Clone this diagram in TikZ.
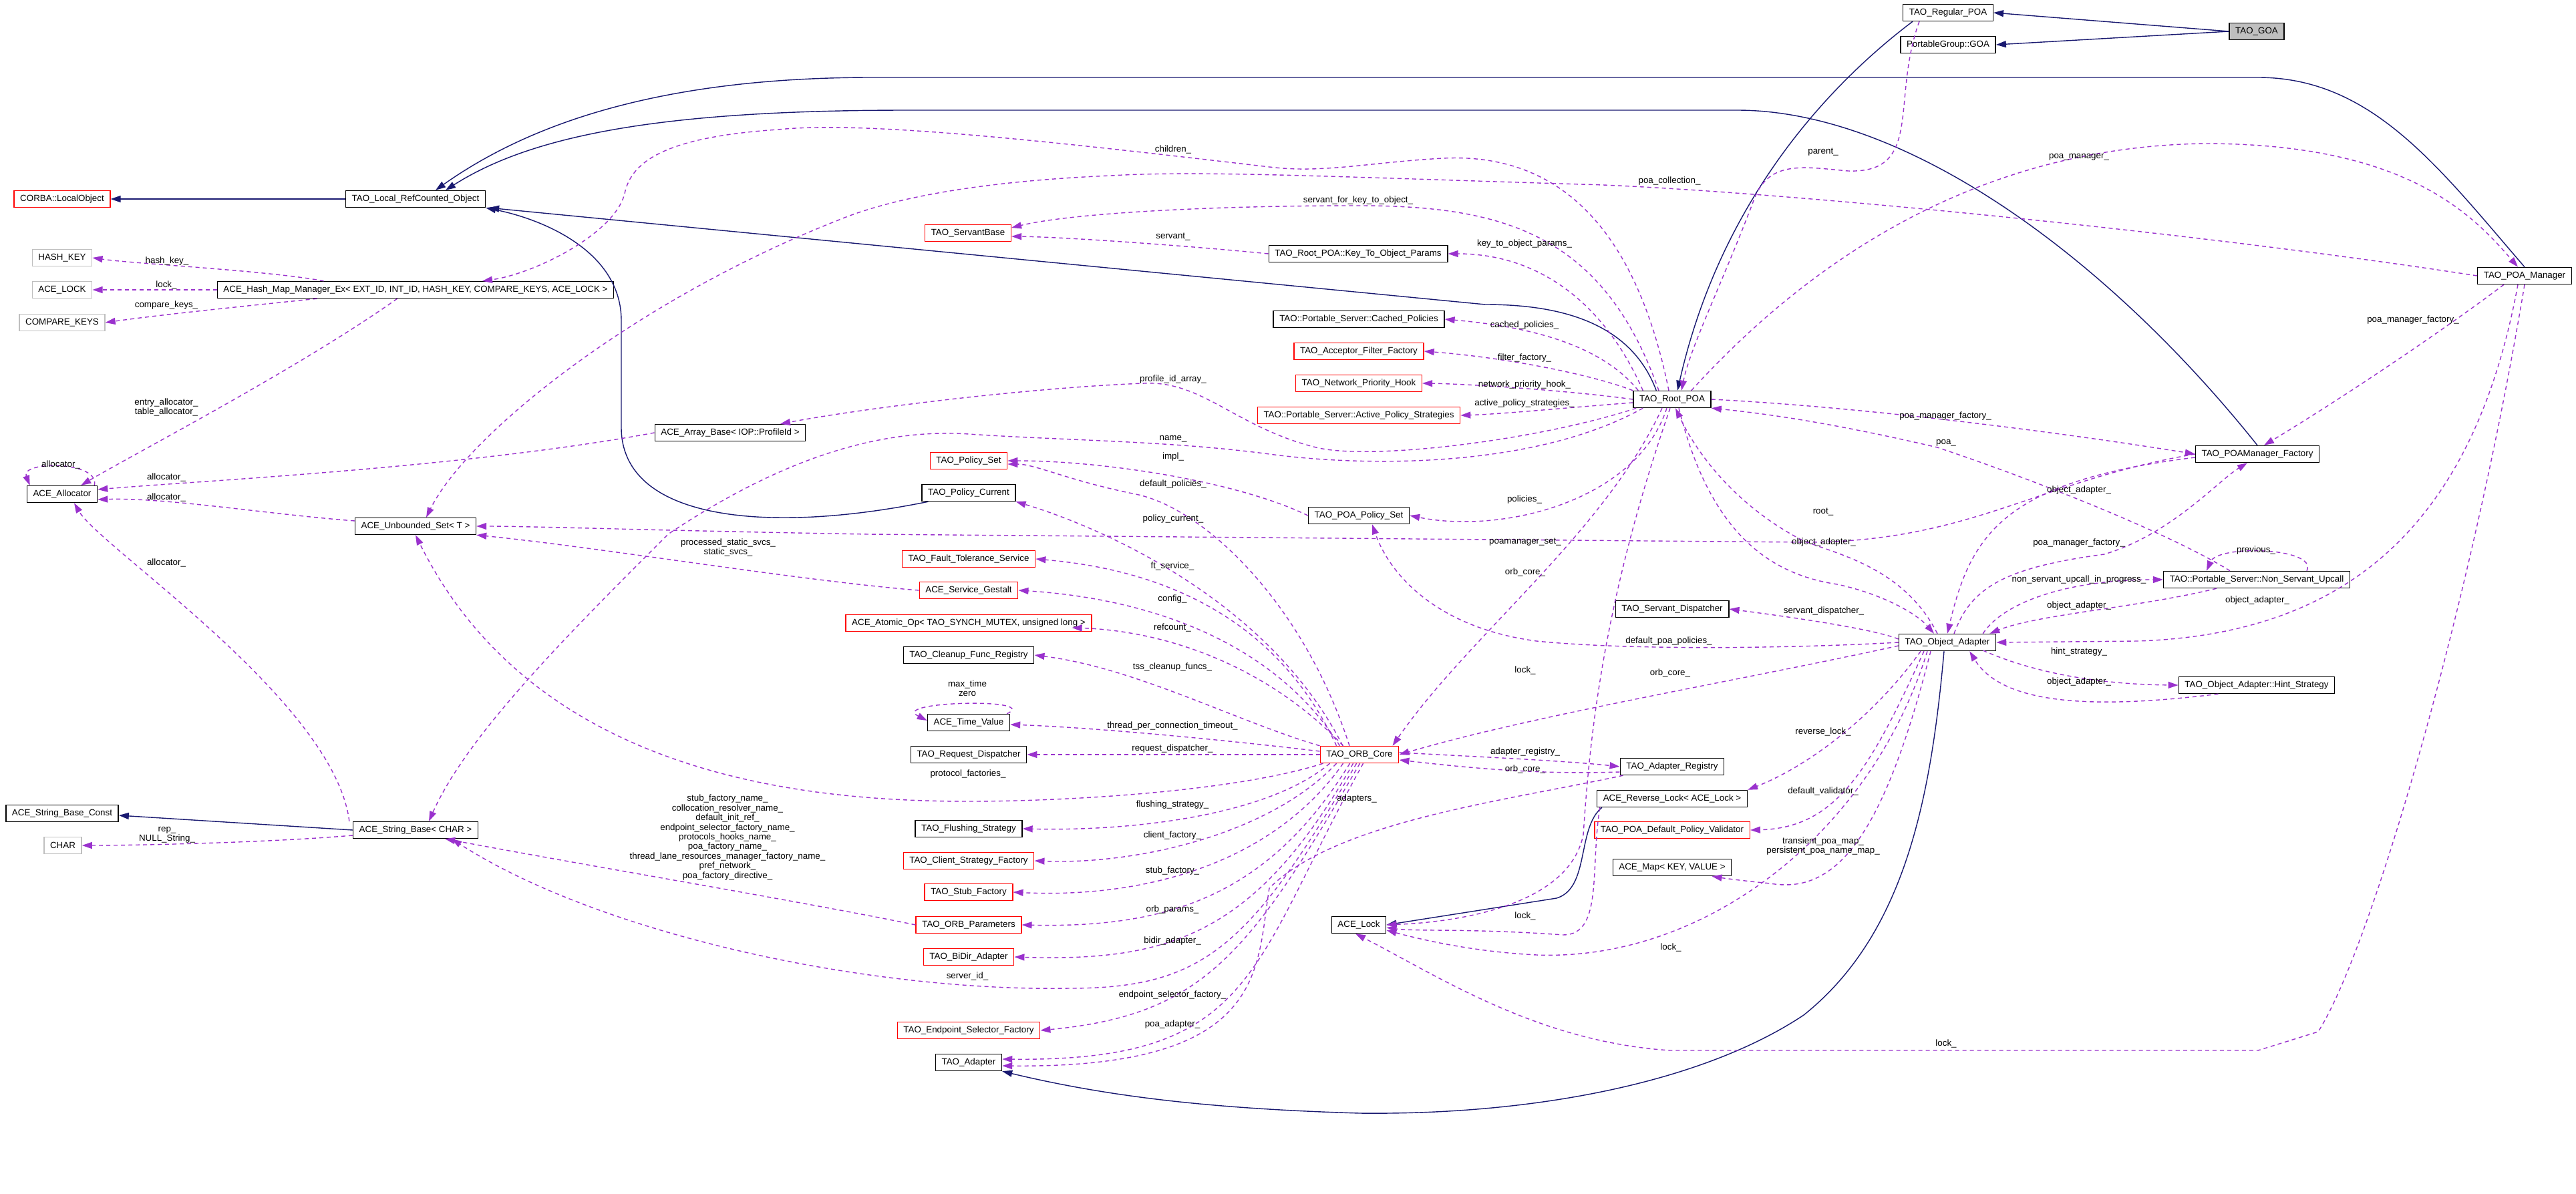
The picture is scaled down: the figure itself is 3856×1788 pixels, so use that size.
\documentclass[tikz,border=0pt]{standalone}
\usepackage{fontspec}
\setmainfont{Liberation Sans}
\usetikzlibrary{arrows.meta,calc}
\definecolor{inhc}{HTML}{191970}
\definecolor{depc}{HTML}{9A32CD}
\newcommand\dgfont{\fontsize{3.8}{4.1}\selectfont}
\newcommand\lt{\textless{}}
\newcommand\gt{\textgreater{}}
\tikzset{
 box/.style={draw=black, line width=0.4pt, fill=white, inner xsep=2.6pt, inner ysep=0pt, minimum height=0.25cm, font=\dgfont},
 rbox/.style={box, draw=red},
 gbox/.style={box, draw=black!25},
 inh/.style={draw=inhc, line width=0.4pt, -{Triangle[length=0.15cm,width=0.1cm]}},
 dep/.style={draw=depc, line width=0.4pt, dash pattern=on 0.06cm off 0.05cm, -{Triangle[length=0.15cm,width=0.1cm,fill=depc]}},
 lab/.style={font=\dgfont, inner sep=0pt, align=center}
}
\begin{document}
\begin{tikzpicture}[x=0.01cm,y=-0.01cm]
\useasboundingbox (0,0) rectangle (3856,1788);
% nodes
\node[box,fill=black!25] (goa) at (3378,47) {TAO\_GOA};
\node[box] (regpoa) at (2916,19) {TAO\_Regular\_POA};
\node[box] (pggoa) at (2916,67) {PortableGroup::GOA};
\node[rbox] (corba) at (93,298) {CORBA::LocalObject};
\node[box] (lrc) at (622,298) {TAO\_Local\_RefCounted\_Object};
\node[gbox] (hashkey) at (93,386) {HASH\_KEY};
\node[gbox] (acelock) at (93,434) {ACE\_LOCK};
\node[gbox] (cmpkeys) at (93,483) {COMPARE\_KEYS};
\node[box] (hashmap) at (622,434) {ACE\_Hash\_Map\_Manager\_Ex\lt{} EXT\_ID, INT\_ID, HASH\_KEY, COMPARE\_KEYS, ACE\_LOCK \gt};
\node[box] (alloc) at (93,740) {ACE\_Allocator};
\node[box] (uset) at (622,788) {ACE\_Unbounded\_Set\lt{} T \gt};
\node[box] (arraybase) at (1093,648) {ACE\_Array\_Base\lt{} IOP::ProfileId \gt};
\node[box] (sbc) at (93,1218) {ACE\_String\_Base\_Const};
\node[gbox] (char) at (94,1266) {CHAR};
\node[box] (sbase) at (622,1243) {ACE\_String\_Base\lt{} CHAR \gt};
\node[rbox] (servantbase) at (1449,349) {TAO\_ServantBase};
\node[box] (keyobj) at (2033,380) {TAO\_Root\_POA::Key\_To\_Object\_Params};
\node[box] (cached) at (2034,478) {TAO::Portable\_Server::Cached\_Policies};
\node[rbox] (acceptor) at (2034,526) {TAO\_Acceptor\_Filter\_Factory};
\node[rbox] (nethook) at (2034,574) {TAO\_Network\_Priority\_Hook};
\node[rbox] (aps) at (2034,622) {TAO::Portable\_Server::Active\_Policy\_Strategies};
\node[box] (rootpoa) at (2503,598) {TAO\_Root\_POA};
\node[rbox] (policyset) at (1450,690) {TAO\_Policy\_Set};
\node[box] (policycur) at (1450,738) {TAO\_Policy\_Current};
\node[box] (poapolicyset) at (2034,772) {TAO\_POA\_Policy\_Set};
\node[rbox] (ft) at (1450,837) {TAO\_Fault\_Tolerance\_Service};
\node[rbox] (gestalt) at (1450,884) {ACE\_Service\_Gestalt};
\node[rbox] (atomic) at (1450,933) {ACE\_Atomic\_Op\lt{} TAO\_SYNCH\_MUTEX, unsigned long \gt};
\node[box] (cleanup) at (1450,981) {TAO\_Cleanup\_Func\_Registry};
\node[box] (timevalue) at (1450,1082) {ACE\_Time\_Value};
\node[box] (reqdisp) at (1450,1130) {TAO\_Request\_Dispatcher};
\node[rbox] (orbcore) at (2035,1130) {TAO\_ORB\_Core};
\node[box] (flush) at (1450,1241) {TAO\_Flushing\_Strategy};
\node[rbox] (csf) at (1450,1289) {TAO\_Client\_Strategy\_Factory};
\node[rbox] (stubf) at (1450,1336) {TAO\_Stub\_Factory};
\node[rbox] (orbparams) at (1450,1385) {TAO\_ORB\_Parameters};
\node[rbox] (bidir) at (1450,1433) {TAO\_BiDir\_Adapter};
\node[rbox] (esf) at (1450,1543) {TAO\_Endpoint\_Selector\_Factory};
\node[box] (adapter) at (1450,1591) {TAO\_Adapter};
\node[box] (acelockc) at (2034,1385) {ACE\_Lock};
\node[box] (adreg) at (2503,1148) {TAO\_Adapter\_Registry};
\node[box] (revlock) at (2503,1196) {ACE\_Reverse\_Lock\lt{} ACE\_Lock \gt};
\node[rbox] (validator) at (2503,1243) {TAO\_POA\_Default\_Policy\_Validator};
\node[box] (acemap) at (2503,1299) {ACE\_Map\lt{} KEY, VALUE \gt};
\node[box] (servdisp) at (2503,912) {TAO\_Servant\_Dispatcher};
\node[box] (oa) at (2915,962) {TAO\_Object\_Adapter};
\node[box] (pmf) at (3379,680) {TAO\_POAManager\_Factory};
\node[box] (pm) at (3779,413) {TAO\_POA\_Manager};
\node[box] (nsu) at (3378,868) {TAO::Portable\_Server::Non\_Servant\_Upcall};
\node[box] (hint) at (3378,1026) {TAO\_Object\_Adapter::Hint\_Strategy};

% inheritance
\draw[inh] (goa.west) -- (regpoa.east);
\draw[inh] (goa.west) -- (pggoa.east);
\draw[inh] ($(regpoa.south west)+(15,0)$) .. controls (2760,110) and (2580,280) .. ($(rootpoa.north)+(8,0)$);
\draw[inh] ($(rootpoa.north west)+(35,0)$) .. controls (2440,480) and (2330,456) .. (2223,456) -- ($(lrc.south east)+(5,0)$);
\draw[inh] (pmf.north) .. controls (3150,380) and (2850,165) .. (2600,165) -- (1360,165) .. controls (1000,165) and (800,200) .. ($(lrc.north)+(45,0)$);
\draw[inh] (pm.north) .. controls (3650,250) and (3550,116) .. (3380,116) -- (1306,116) .. controls (1000,116) and (800,180) .. ($(lrc.north)+(30,0)$);
\draw[inh] ($(policycur.south west)+(10,0)$) .. controls (1150,800) and (930,780) .. (930,640) -- (930,480) .. controls (930,380) and (820,330) .. (lrc.south east);
\draw[inh] (lrc.west) -- (corba.east);
\draw[inh] (sbase.west) -- ($(sbc.east)+(0,3)$);
\draw[inh] ($(revlock.south west)+(8,0)$) .. controls (2360,1240) and (2380,1330) .. (2330,1345) -- (acelockc.east);
\draw[inh] ($(oa.south)+(-5,0)$) .. controls (2890,1200) and (2850,1400) .. (2700,1520) .. controls (2550,1620) and (2300,1670) .. (2035,1667) .. controls (1800,1660) and (1650,1640) .. (adapter.south east);

% dependencies
\draw[dep] ($(hashmap.north west)+(160,0)$) .. controls (400,405) and (200,395) .. (hashkey.east);
\draw[dep] (hashmap.west) -- (acelock.east);
\draw[dep] ($(hashmap.south west)+(150,0)$) .. controls (400,455) and (250,470) .. (cmpkeys.east);
\draw[dep] ($(hashmap.south west)+(270,0)$) .. controls (450,550) and (200,680) .. ($(alloc.north east)+(-25,0)$);
\draw[dep] ($(alloc.north east)+(-5,0)$) .. controls (150,690) and (30,690) .. ($(alloc.north west)+(5,0)$);
\draw[dep] (arraybase.west) .. controls (700,700) and (300,720) .. ($(alloc.east)+(0,-7)$);
\draw[dep] ($(uset.west)+(0,-8)$) .. controls (400,770) and (250,745) .. ($(alloc.east)+(0,8)$);
\draw[dep] ($(sbase.north west)+(-5,0)$) .. controls (500,1050) and (150,820) .. ($(alloc.south)+(18,0)$);
\draw[dep] ($(sbase.west)+(0,8)$) .. controls (400,1262) and (200,1266) .. (char.east);
\draw[dep] ($(rootpoa.north)+(-5,0)$) .. controls (2440,300) and (2300,230) .. (2160,237) .. controls (2050,243) and (1980,260) .. (1900,250) .. controls (1600,215) and (1300,180) .. (1165,194) .. controls (1000,205) and (945,240) .. (935,290) .. controls (920,350) and (800,410) .. ($(hashmap.north)+(100,0)$);
\draw[dep] (pm.west) .. controls (3300,350) and (2700,290) .. (2400,277) .. controls (2000,265) and (1800,255) .. (1663,263) .. controls (1500,270) and (1350,290) .. (1254,330) .. controls (950,450) and (700,650) .. ($(uset.north)+(16,0)$);
\draw[dep] ($(rootpoa.north)+(-20,0)$) .. controls (2400,350) and (2250,308) .. (2033,308) .. controls (1800,308) and (1600,320) .. ($(servantbase.east)+(0,-8)$);
\draw[dep] (keyobj.west) .. controls (1800,370) and (1600,355) .. ($(servantbase.east)+(0,5)$);
\draw[dep] ($(rootpoa.north west)+(15,0)$) .. controls (2400,450) and (2300,380) .. (keyobj.east);
\draw[dep] ($(rootpoa.north west)+(8,0)$) .. controls (2400,520) and (2300,490) .. (cached.east);
\draw[dep] (rootpoa.north west) .. controls (2380,560) and (2250,535) .. (acceptor.east);
\draw[dep] (rootpoa.west) .. controls (2350,585) and (2200,575) .. (nethook.east);
\draw[dep] ($(rootpoa.west)+(0,5)$) .. controls (2350,610) and (2250,620) .. (aps.east);
\draw[dep] ($(rootpoa.south west)+(5,0)$) .. controls (2300,660) and (2050,690) .. (1970,670) .. controls (1850,640) and (1800,570) .. (1713,574) .. controls (1550,580) and (1300,610) .. ($(arraybase.north)+(75,0)$);
\draw[dep] ($(rootpoa.south west)+(15,0)$) .. controls (2300,700) and (2050,700) .. (1900,680) .. controls (1750,660) and (1600,660) .. (1450,650) .. controls (1300,640) and (1150,700) .. (1000,800) .. controls (850,950) and (700,1100) .. ($(sbase.north)+(20,0)$);
\draw[dep] (poapolicyset.west) .. controls (1850,720) and (1650,690) .. (policyset.east);
\draw[dep] ($(orbcore.north)+(-15,0)$) .. controls (1950,900) and (1800,760) .. (1700,740) .. controls (1600,720) and (1550,695) .. ($(policyset.east)+(0,5)$);
\draw[dep] ($(rootpoa.south)+(-8,0)$) .. controls (2450,750) and (2250,800) .. (poapolicyset.east);
\draw[dep] ($(orbcore.north)+(-25,0)$) .. controls (1900,900) and (1650,790) .. (policycur.south east);
\draw[dep] (pmf.west) .. controls (3050,720) and (2950,812) .. (2700,812) -- (1300,800) .. controls (1000,795) and (800,788) .. (uset.east);
\draw[dep] (gestalt.west) .. controls (1200,870) and (900,820) .. (uset.south east);
\draw[dep] ($(orbcore.north west)+(25,0)$) .. controls (1900,900) and (1700,850) .. (ft.east);
\draw[dep] ($(orbcore.north west)+(30,0)$) .. controls (1900,950) and (1700,895) .. (gestalt.east);
\draw[dep] ($(orbcore.north west)+(35,0)$) .. controls (1900,1000) and (1750,945) .. ($(atomic.east)+(-30,7)$);
\draw[dep] (orbcore.north west) .. controls (1850,1080) and (1700,1000) .. (cleanup.east);
\draw[dep] ($(timevalue.north east)+(-5,0)$) .. controls (1560,1045) and (1330,1050) .. ($(timevalue.west)+(0,-3)$);
\draw[dep] ($(orbcore.west)+(0,-5)$) .. controls (1850,1110) and (1650,1090) .. ($(timevalue.east)+(0,3)$);
\draw[dep] (orbcore.west) -- (reqdisp.east);
\draw[dep] ($(orbcore.south west)+(5,0)$) .. controls (1850,1185) and (1600,1200) .. (1450,1200) .. controls (1200,1200) and (800,1160) .. ($(uset.south)+(0,0)$);
\draw[dep] ($(orbcore.south west)+(15,0)$) .. controls (1900,1220) and (1700,1245) .. (flush.east);
\draw[dep] ($(orbcore.south west)+(25,0)$) .. controls (1900,1250) and (1700,1295) .. (csf.east);
\draw[dep] ($(orbcore.south west)+(35,0)$) .. controls (1900,1300) and (1700,1345) .. (stubf.east);
\draw[dep] ($(orbcore.south west)+(45,0)$) .. controls (1900,1340) and (1750,1390) .. (orbparams.east);
\draw[dep] ($(orbcore.south west)+(50,0)$) .. controls (1880,1400) and (1750,1440) .. (bidir.east);
\draw[dep] ($(orbcore.south west)+(55,0)$) .. controls (1870,1420) and (1800,1480) .. (1600,1480) .. controls (1300,1485) and (900,1400) .. ($(sbase.south east)+(-40,0)$);
\draw[dep] ($(orbcore.south west)+(60,0)$) .. controls (1870,1430) and (1800,1520) .. (esf.east);
\draw[dep] ($(orbcore.south west)+(65,0)$) .. controls (1870,1450) and (1880,1590) .. ($(adapter.east)+(0,-5)$);
\draw[dep] (orbparams.west) .. controls (1200,1350) and (900,1300) .. ($(sbase.south east)+(-50,0)$);
\draw[dep] ($(orbcore.east)+(0,-3)$) .. controls (2250,1135) and (2350,1140) .. (adreg.west);
\draw[dep] ($(adreg.west)+(0,8)$) .. controls (2300,1160) and (2200,1150) .. ($(orbcore.east)+(0,8)$);
\draw[dep] ($(adreg.south west)+(5,0)$) .. controls (2250,1200) and (2000,1230) .. (1900,1330) .. controls (1880,1450) and (1900,1600) .. ($(adapter.east)+(0,5)$);
\draw[dep] ($(rootpoa.south)+(-15,0)$) .. controls (2400,800) and (2200,950) .. ($(orbcore.north east)+(-10,0)$);
\draw[dep] ($(rootpoa.south)+(-3,0)$) .. controls (2400,900) and (2380,1100) .. (2370,1250) .. controls (2350,1350) and (2200,1380) .. (acelockc.east);
\draw[dep] ($(oa.west)+(0,5)$) .. controls (2600,1020) and (2300,1070) .. (orbcore.east);
\draw[dep] ($(oa.south)+(-30,0)$) .. controls (2800,1250) and (2550,1440) .. (2300,1430) .. controls (2200,1425) and (2120,1405) .. ($(acelockc.east)+(0,8)$);
\draw[dep] (pm.south) .. controls (3700,900) and (3550,1420) .. (3470,1545) -- (3380,1573) -- (2500,1573) .. controls (2300,1560) and (2150,1460) .. ($(acelockc.south)+(-5,0)$);
\draw[dep] ($(revlock.south west)+(5,0)$) .. controls (2380,1300) and (2400,1400) .. (2340,1400) .. controls (2200,1390) and (2120,1395) .. ($(acelockc.east)+(0,4)$);
\draw[dep] ($(oa.south)+(-40,0)$) .. controls (2800,1080) and (2700,1150) .. (revlock.north east);
\draw[dep] ($(oa.south)+(-35,0)$) .. controls (2800,1150) and (2750,1240) .. (validator.east);
\draw[dep] ($(oa.south)+(-25,0)$) .. controls (2820,1250) and (2750,1340) .. (2650,1323) .. controls (2600,1318) and (2580,1315) .. ($(acemap.south east)+(-30,0)$);
\draw[dep] ($(oa.west)+(0,-5)$) .. controls (2800,940) and (2650,920) .. (servdisp.east);
\draw[dep] (oa.west) .. controls (2700,970) and (2450,975) .. (2300,960) .. controls (2150,940) and (2080,860) .. ($(poapolicyset.south)+(20,0)$);
\draw[dep] ($(oa.north)+(-15,0)$) .. controls (2850,850) and (2750,830) .. (2700,810) .. controls (2620,770) and (2550,700) .. ($(rootpoa.south)+(5,0)$);
\draw[dep] ($(rootpoa.south)+(10,0)$) .. controls (2560,800) and (2650,860) .. (2750,875) .. controls (2820,890) and (2870,920) .. ($(oa.north)+(-20,0)$);
\draw[dep] ($(oa.north)+(10,0)$) .. controls (2950,880) and (3000,850) .. (3150,830) .. controls (3250,800) and (3320,720) .. ($(pmf.south)+(-15,0)$);
\draw[dep] ($(pmf.west)+(0,5)$) .. controls (3000,720) and (2950,800) .. ($(oa.north)+(0,0)$);
\draw[dep] ($(oa.north east)+(-20,0)$) .. controls (3000,900) and (3100,868) .. (nsu.west);
\draw[dep] ($(nsu.south west)+(80,0)$) .. controls (3200,910) and (3050,920) .. ($(oa.north east)+(-10,0)$);
\draw[dep] ($(nsu.north)+(75,0)$) .. controls (3470,820) and (3320,815) .. ($(nsu.north)+(-75,0)$);
\draw[dep] ($(nsu.north)+(-40,0)$) .. controls (3250,800) and (3050,720) .. (2900,670) .. controls (2750,635) and (2650,620) .. (rootpoa.south east);
\draw[dep] ($(pm.south)+(-10,0)$) .. controls (3700,800) and (3500,950) .. (3200,960) -- (oa.east);
\draw[dep] ($(oa.east)+(-20,12)$) .. controls (3050,1010) and (3150,1025) .. (hint.west);
\draw[dep] ($(hint.south west)+(60,0)$) .. controls (3150,1060) and (3000,1060) .. ($(oa.south east)+(-40,0)$);
\draw[dep] (rootpoa.east) .. controls (2800,610) and (3100,650) .. (pmf.west);
\draw[dep] ($(pm.south west)+(40,0)$) .. controls (3650,500) and (3500,600) .. ($(pmf.north)+(10,0)$);
\draw[dep] ($(rootpoa.north east)+(-30,0)$) .. controls (2700,400) and (2950,220) .. (3300,215) .. controls (3600,215) and (3700,320) .. ($(pm.north)+(-10,0)$);
\draw[dep] ($(regpoa.south west)+(25,0)$) .. controls (2830,150) and (2880,260) .. (2766,256) .. controls (2700,250) and (2650,240) .. (2627,295) .. controls (2580,420) and (2530,520) .. ($(rootpoa.north)+(14,0)$);

% labels
\node[lab] (l1) at (250,391) {hash\_key\_};
\node[lab] (l2) at (249,427) {lock\_};
\node[lab] (l3) at (249,457) {compare\_keys\_};
\node[lab] (l4) at (249,610) {entry\_allocator\_\\table\_allocator\_};
\node[lab] (l5) at (91,696) {allocator\_};
\node[lab] (l6) at (249,715) {allocator\_};
\node[lab] (l7) at (249,745) {allocator\_};
\node[lab] (l8) at (249,843) {allocator\_};
\node[lab] (l9) at (250,1250) {rep\_\\NULL\_String\_};
\node[lab] (l10) at (1089,1254) {stub\_factory\_name\_\\collocation\_resolver\_name\_\\default\_init\_ref\_\\endpoint\_selector\_factory\_name\_\\protocols\_hooks\_name\_\\poa\_factory\_name\_\\thread\_lane\_resources\_manager\_factory\_name\_\\pref\_network\_\\poa\_factory\_directive\_};
\node[lab] (l11) at (1090,820) {processed\_static\_svcs\_\\static\_svcs\_};
\node[lab] (l12) at (2283,812) {poamanager\_set\_};
\node[lab] (l13) at (1755,848) {ft\_service\_};
\node[lab] (l14) at (1755,897) {config\_};
\node[lab] (l15) at (1755,940) {refcount\_};
\node[lab] (l16) at (2283,857) {orb\_core\_};
\node[lab] (l17) at (1755,999) {tss\_cleanup\_funcs\_};
\node[lab] (l18) at (2283,1004) {lock\_};
\node[lab] (l19) at (1448,1031) {max\_time\\zero};
\node[lab] (l20) at (1755,1087) {thread\_per\_connection\_timeout\_};
\node[lab] (l21) at (1755,1121) {request\_dispatcher\_};
\node[lab] (l22) at (1449,1159) {protocol\_factories\_};
\node[lab] (l23) at (2283,1126) {adapter\_registry\_};
\node[lab] (l24) at (2283,1152) {orb\_core\_};
\node[lab] (l25) at (2031,1196) {adapters\_};
\node[lab] (l26) at (1755,1205) {flushing\_strategy\_};
\node[lab] (l27) at (1755,1251) {client\_factory\_};
\node[lab] (l28) at (1755,1304) {stub\_factory\_};
\node[lab] (l29) at (1755,1362) {orb\_params\_};
\node[lab] (l30) at (2283,1372) {lock\_};
\node[lab] (l31) at (1755,1409) {bidir\_adapter\_};
\node[lab] (l32) at (1448,1462) {server\_id\_};
\node[lab] (l33) at (1755,1490) {endpoint\_selector\_factory\_};
\node[lab] (l34) at (1755,1534) {poa\_adapter\_};
\node[lab] (l35) at (2498,960) {default\_poa\_policies\_};
\node[lab] (l36) at (2500,1008) {orb\_core\_};
\node[lab] (l37) at (2499,271) {poa\_collection\_};
\node[lab] (l38) at (2033,300) {servant\_for\_key\_to\_object\_};
\node[lab] (l39) at (1756,355) {servant\_};
\node[lab] (l40) at (2282,365) {key\_to\_object\_params\_};
\node[lab] (l41) at (2282,487) {cached\_policies\_};
\node[lab] (l42) at (2282,536) {filter\_factory\_};
\node[lab] (l43) at (2282,576) {network\_priority\_hook\_};
\node[lab] (l44) at (2282,604) {active\_policy\_strategies\_};
\node[lab] (l45) at (1756,568) {profile\_id\_array\_};
\node[lab] (l46) at (1756,657) {name\_};
\node[lab] (l47) at (1756,684) {impl\_};
\node[lab] (l48) at (1756,725) {default\_policies\_};
\node[lab] (l49) at (2282,748) {policies\_};
\node[lab] (l50) at (1756,777) {policy\_current\_};
\node[lab] (l51) at (1756,224) {children\_};
\node[lab] (l52) at (2729,228) {parent\_};
\node[lab] (l53) at (3112,235) {poa\_manager\_};
\node[lab] (l54) at (3612,479) {poa\_manager\_factory\_};
\node[lab] (l55) at (2912,623) {poa\_manager\_factory\_};
\node[lab] (l56) at (2913,663) {poa\_};
\node[lab] (l57) at (3112,734) {object\_adapter\_};
\node[lab] (l58) at (2729,767) {root\_};
\node[lab] (l59) at (2730,812) {object\_adapter\_};
\node[lab] (l60) at (3112,813) {poa\_manager\_factory\_};
\node[lab] (l61) at (3377,824) {previous\_};
\node[lab] (l62) at (3112,868) {non\_servant\_upcall\_in\_progress\_};
\node[lab] (l63) at (3112,907) {object\_adapter\_};
\node[lab] (l64) at (3379,899) {object\_adapter\_};
\node[lab] (l65) at (2730,915) {servant\_dispatcher\_};
\node[lab] (l66) at (3112,976) {hint\_strategy\_};
\node[lab] (l67) at (3112,1021) {object\_adapter\_};
\node[lab] (l68) at (2729,1096) {reverse\_lock\_};
\node[lab] (l69) at (2729,1185) {default\_validator\_};
\node[lab] (l70) at (2729,1267) {transient\_poa\_map\_\\persistent\_poa\_name\_map\_};
\node[lab] (l71) at (2501,1419) {lock\_};
\node[lab] (l72) at (2913,1563) {lock\_};
\end{tikzpicture}
\end{document}
